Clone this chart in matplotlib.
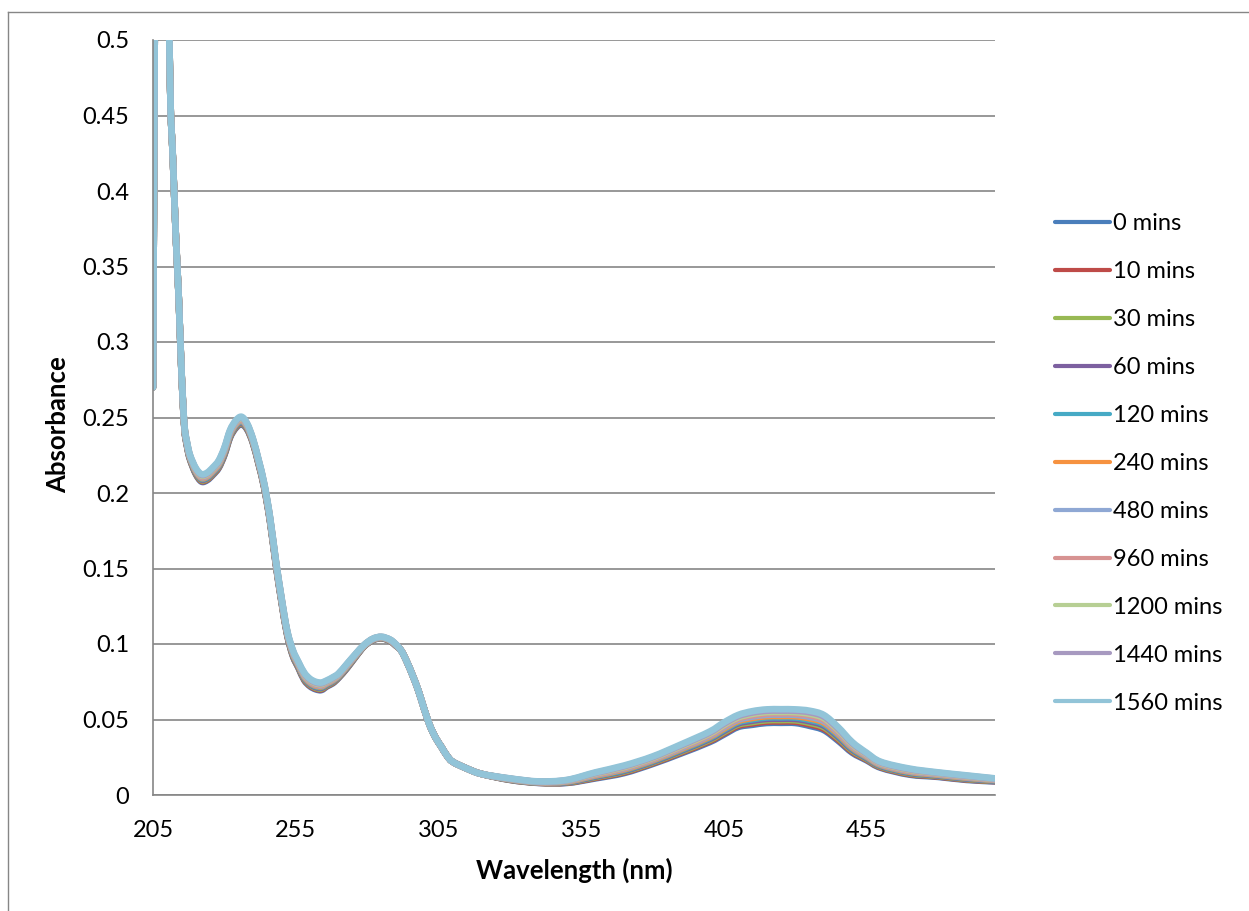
# UV-vis spectra over time (absorbance vs wavelength)
import matplotlib
matplotlib.use("Agg")
import matplotlib.pyplot as plt
from matplotlib.lines import Line2D
from matplotlib.path import Path
from matplotlib.patches import PathPatch

plt.rcParams['font.family'] = ['Lato', 'DejaVu Sans']

# Data
wavelength = [205, 206, 207, 208, 209, 210, 211, 212, 213, 214,
              215, 216, 217, 218,
              220, 222, 224, 226, 228, 230, 232, 234, 236, 238, 240, 242, 244,
              246, 248, 250, 252, 254, 256, 258, 260, 262, 264, 266, 268, 270,
              273, 276, 279, 282, 285, 288, 290,
              292, 294, 296, 298, 300, 302, 304, 306, 308, 310, 315, 320,
              330, 340, 350, 360, 370, 380, 390, 400,
              405, 410, 415, 420, 425, 430, 435, 440, 445, 450, 455, 460,
              470, 480, 490, 500]

# parts where all the spectra overlap
spike = [0.270, 0.650, 0.950, 1.000, 0.850, 0.620, 0.470, 0.420, 0.370, 0.330]
shoulder = [0.0955, 0.0880, 0.0790, 0.0690, 0.0570, 0.0460, 0.0380, 0.0320,
            0.0260, 0.0220, 0.0175, 0.0140]

abs_0 = spike + [
    .2790, .2430, .2300, .2220, .2125, .2075, .2085, .2120, .2165, .2250, .2367, .2430, .2455,
    .2420, .2330, .2190, .2030, .1810, .1530, .1280, .1060, .0920, .0840, .0760, .0720, .0700,
    .0695, .0720, .0740, .0775, .0840, .0915, .0985, .1025, .1038, .1020, .0990] + shoulder + [
    .0100, .0080, .0080, .0110, .0145, .0205, .0275, .0350, .0400, .0450, .0465, .0477,
    .0478, .0477, .0458, .0430, .0360, .0280, .0230, .0180, .0135, .0120, .0100, .0090]
abs_10 = spike + [
    .2791, .2432, .2303, .2223, .2129, .2080, .2090, .2125, .2170, .2255, .2372, .2435, .2460,
    .2424, .2333, .2193, .2033, .1813, .1533, .1283, .1063, .0924, .0844, .0765, .0725, .0705,
    .0700, .0724, .0744, .0778, .0843, .0917, .0986, .1026, .1039, .1021, .0991] + shoulder + [
    .0101, .0081, .0082, .0114, .0150, .0210, .0281, .0357, .0408, .0458, .0474, .0486,
    .0487, .0486, .0468, .0440, .0369, .0287, .0235, .0184, .0139, .0123, .0103, .0092]
abs_30 = spike + [
    .2792, .2434, .2306, .2226, .2133, .2085, .2095, .2130, .2175, .2260, .2377, .2440, .2465,
    .2428, .2336, .2196, .2036, .1816, .1536, .1286, .1066, .0928, .0848, .0770, .0730, .0710,
    .0705, .0728, .0748, .0781, .0846, .0919, .0987, .1027, .1040, .1022, .0992] + shoulder + [
    .0102, .0082, .0084, .0118, .0155, .0215, .0287, .0364, .0416, .0466, .0483, .0495,
    .0496, .0495, .0478, .0450, .0378, .0294, .0240, .0188, .0143, .0126, .0106, .0094]
abs_60 = spike + [
    .2793, .2436, .2309, .2229, .2137, .2090, .2100, .2135, .2180, .2265, .2382, .2445, .2470,
    .2432, .2339, .2199, .2039, .1819, .1539, .1289, .1069, .0932, .0852, .0775, .0735, .0715,
    .0710, .0732, .0752, .0784, .0849, .0921, .0988, .1028, .1041, .1023, .0993] + shoulder + [
    .0103, .0083, .0086, .0122, .0160, .0220, .0293, .0371, .0424, .0474, .0492, .0504,
    .0505, .0504, .0488, .0460, .0387, .0301, .0245, .0192, .0147, .0129, .0109, .0096]
abs_120 = spike + [
    .2794, .2438, .2312, .2232, .2141, .2095, .2105, .2140, .2185, .2270, .2387, .2450, .2475,
    .2436, .2342, .2202, .2042, .1822, .1542, .1292, .1072, .0936, .0856, .0780, .0740, .0720,
    .0715, .0736, .0756, .0787, .0852, .0923, .0989, .1029, .1042, .1024, .0994] + shoulder + [
    .0104, .0084, .0088, .0126, .0165, .0225, .0299, .0378, .0432, .0482, .0501, .0513,
    .0514, .0513, .0498, .0470, .0396, .0308, .0250, .0196, .0151, .0132, .0112, .0098]
abs_240 = spike + [
    .2795, .2440, .2315, .2235, .2145, .2100, .2110, .2145, .2190, .2275, .2392, .2455, .2480,
    .2440, .2345, .2205, .2045, .1825, .1545, .1295, .1075, .0940, .0860, .0785, .0745, .0725,
    .0720, .0740, .0760, .0790, .0855, .0925, .0990, .1030, .1043, .1025, .0995] + shoulder + [
    .0105, .0085, .0090, .0130, .0170, .0230, .0305, .0385, .0440, .0490, .0510, .0522,
    .0523, .0522, .0508, .0480, .0405, .0315, .0255, .0200, .0155, .0135, .0115, .0100]
abs_480 = spike + [
    .2796, .2442, .2318, .2238, .2149, .2105, .2115, .2150, .2195, .2280, .2397, .2460, .2485,
    .2444, .2348, .2208, .2048, .1828, .1548, .1298, .1078, .0944, .0864, .0790, .0750, .0730,
    .0725, .0744, .0764, .0793, .0858, .0927, .0991, .1031, .1044, .1026, .0996] + shoulder + [
    .0106, .0086, .0092, .0134, .0175, .0235, .0311, .0392, .0448, .0498, .0519, .0531,
    .0532, .0531, .0518, .0490, .0414, .0322, .0260, .0204, .0159, .0138, .0118, .0102]
abs_960 = spike + [
    .2797, .2444, .2321, .2241, .2153, .2110, .2120, .2155, .2200, .2285, .2402, .2465, .2490,
    .2448, .2351, .2211, .2051, .1831, .1551, .1301, .1081, .0948, .0868, .0795, .0755, .0735,
    .0730, .0748, .0768, .0796, .0861, .0929, .0992, .1032, .1045, .1027, .0997] + shoulder + [
    .0107, .0087, .0094, .0138, .0180, .0240, .0317, .0399, .0456, .0506, .0528, .0540,
    .0541, .0540, .0528, .0500, .0423, .0329, .0265, .0208, .0163, .0141, .0121, .0104]
abs_1200 = spike + [
    .2798, .2446, .2324, .2244, .2157, .2115, .2125, .2160, .2205, .2290, .2407, .2470, .2495,
    .2452, .2354, .2214, .2054, .1834, .1554, .1304, .1084, .0952, .0872, .0800, .0760, .0740,
    .0735, .0752, .0772, .0799, .0864, .0931, .0993, .1033, .1046, .1028, .0998] + shoulder + [
    .0108, .0088, .0096, .0142, .0185, .0245, .0323, .0406, .0464, .0514, .0537, .0549,
    .0550, .0549, .0538, .0510, .0432, .0336, .0270, .0212, .0167, .0144, .0124, .0106]
abs_1440 = spike + [
    .2799, .2448, .2327, .2247, .2161, .2120, .2130, .2165, .2210, .2295, .2412, .2475, .2500,
    .2456, .2357, .2217, .2057, .1837, .1557, .1307, .1087, .0956, .0876, .0805, .0765, .0745,
    .0740, .0756, .0776, .0802, .0867, .0933, .0994, .1034, .1047, .1029, .0999] + shoulder + [
    .0109, .0089, .0098, .0146, .0190, .0250, .0329, .0413, .0472, .0522, .0546, .0558,
    .0559, .0558, .0548, .0520, .0441, .0343, .0275, .0216, .0171, .0147, .0127, .0108]
abs_1560 = spike + [
    .2800, .2450, .2330, .2250, .2165, .2125, .2135, .2170, .2215, .2300, .2417, .2480, .2505,
    .2460, .2360, .2220, .2060, .1840, .1560, .1310, .1090, .0960, .0880, .0810, .0770, .0750,
    .0745, .0760, .0780, .0805, .0870, .0935, .0995, .1035, .1048, .1030, .1000] + shoulder + [
    .0110, .0090, .0100, .0150, .0195, .0255, .0335, .0420, .0480, .0530, .0555, .0567,
    .0568, .0567, .0558, .0530, .0450, .0350, .0280, .0220, .0175, .0150, .0130, .0110]

labels = ['0 mins', '10 mins', '30 mins', '60 mins', '120 mins', '240 mins',
          '480 mins', '960 mins', '1200 mins', '1440 mins', '1560 mins']
spectra = [abs_0, abs_10, abs_30, abs_60, abs_120, abs_240,
           abs_480, abs_960, abs_1200, abs_1440, abs_1560]
colors = ['#4A7EBB', '#BE4B48', '#98B954', '#7D60A0', '#46AAC5', '#F69240',
          '#8FA8D4', '#D79392', '#B7CF94', '#A799C0', '#92C4D8']

x_ticks = [205, 255, 305, 355, 405, 455]
y_ticks = [0, 0.05, 0.1, 0.15, 0.2, 0.25, 0.3, 0.35, 0.4, 0.45, 0.5]
y_tick_labels = ['0', '0.05', '0.1', '0.15', '0.2', '0.25', '0.3', '0.35', '0.4', '0.45', '0.5']


def smooth_path(x, y):
    # smoothed line through the points (like Excel's "smoothed line")
    verts = [(x[0], y[0])]
    codes = [Path.MOVETO]
    n = len(x)
    for i in range(n - 1):
        xa, ya = (x[i - 1], y[i - 1]) if i > 0 else (x[i], y[i])
        xb, yb = (x[i + 2], y[i + 2]) if i + 2 < n else (x[i + 1], y[i + 1])
        c1 = (x[i] + (x[i + 1] - xa) / 6, y[i] + (y[i + 1] - ya) / 6)
        c2 = (x[i + 1] - (xb - x[i]) / 6, y[i + 1] - (yb - y[i]) / 6)
        verts += [c1, c2, (x[i + 1], y[i + 1])]
        codes += [Path.CURVE4] * 3
    return Path(verts, codes)


fig = plt.figure(figsize=(12.49, 9.11), dpi=100)
ax = fig.add_axes([153 / 1249, 1 - 795 / 911, 842 / 1249, 755 / 911])

for vals, col in zip(spectra, colors):
    ax.add_patch(PathPatch(smooth_path(wavelength, vals), fill=False, edgecolor=col,
                           lw=4.8, capstyle='round', joinstyle='round'))

ax.set_xlim(205, 500)
ax.set_ylim(0, 0.5)
ax.set_xticks(x_ticks)
ax.set_yticks(y_ticks)
ax.set_yticklabels(y_tick_labels)
ax.tick_params(axis='both', length=0, labelsize=17, colors='black')
ax.tick_params(axis='y', pad=17)
ax.tick_params(axis='x', pad=18)

ax.set_axisbelow(True)
ax.yaxis.grid(True, color='#868686', lw=1.2)
for side in ['top', 'right']:
    ax.spines[side].set_visible(False)
for side in ['left', 'bottom']:
    ax.spines[side].set_color('#868686')
    ax.spines[side].set_linewidth(1.2)

fig.text(58 / 1249, 1 - 425 / 911, 'Absorbance', rotation=90, ha='center', va='center',
         fontsize=18.5, fontweight='bold')
fig.text(574 / 1249, 1 - 870 / 911, 'Wavelength (nm)', ha='center', va='center',
         fontsize=18.5, fontweight='bold')

handles = [Line2D([], [], color=c, lw=3, solid_capstyle='round') for c in colors]
fig.legend(handles, labels, loc='center left', bbox_to_anchor=(1055 / 1249, 1 - 463.5 / 911),
           frameon=False, fontsize=17, handlelength=2.33, handletextpad=0.13,
           labelspacing=1.14, borderpad=0, borderaxespad=0)

# chart area border (only top and left edges visible)
fig.add_artist(Line2D([7.5 / 1249, 7.5 / 1249], [0, 1 - 11.5 / 911],
                      transform=fig.transFigure, color='#868686', lw=1))
fig.add_artist(Line2D([7.5 / 1249, 1], [1 - 11.5 / 911, 1 - 11.5 / 911],
                      transform=fig.transFigure, color='#868686', lw=1))

fig.savefig('out.png', dpi=100)
